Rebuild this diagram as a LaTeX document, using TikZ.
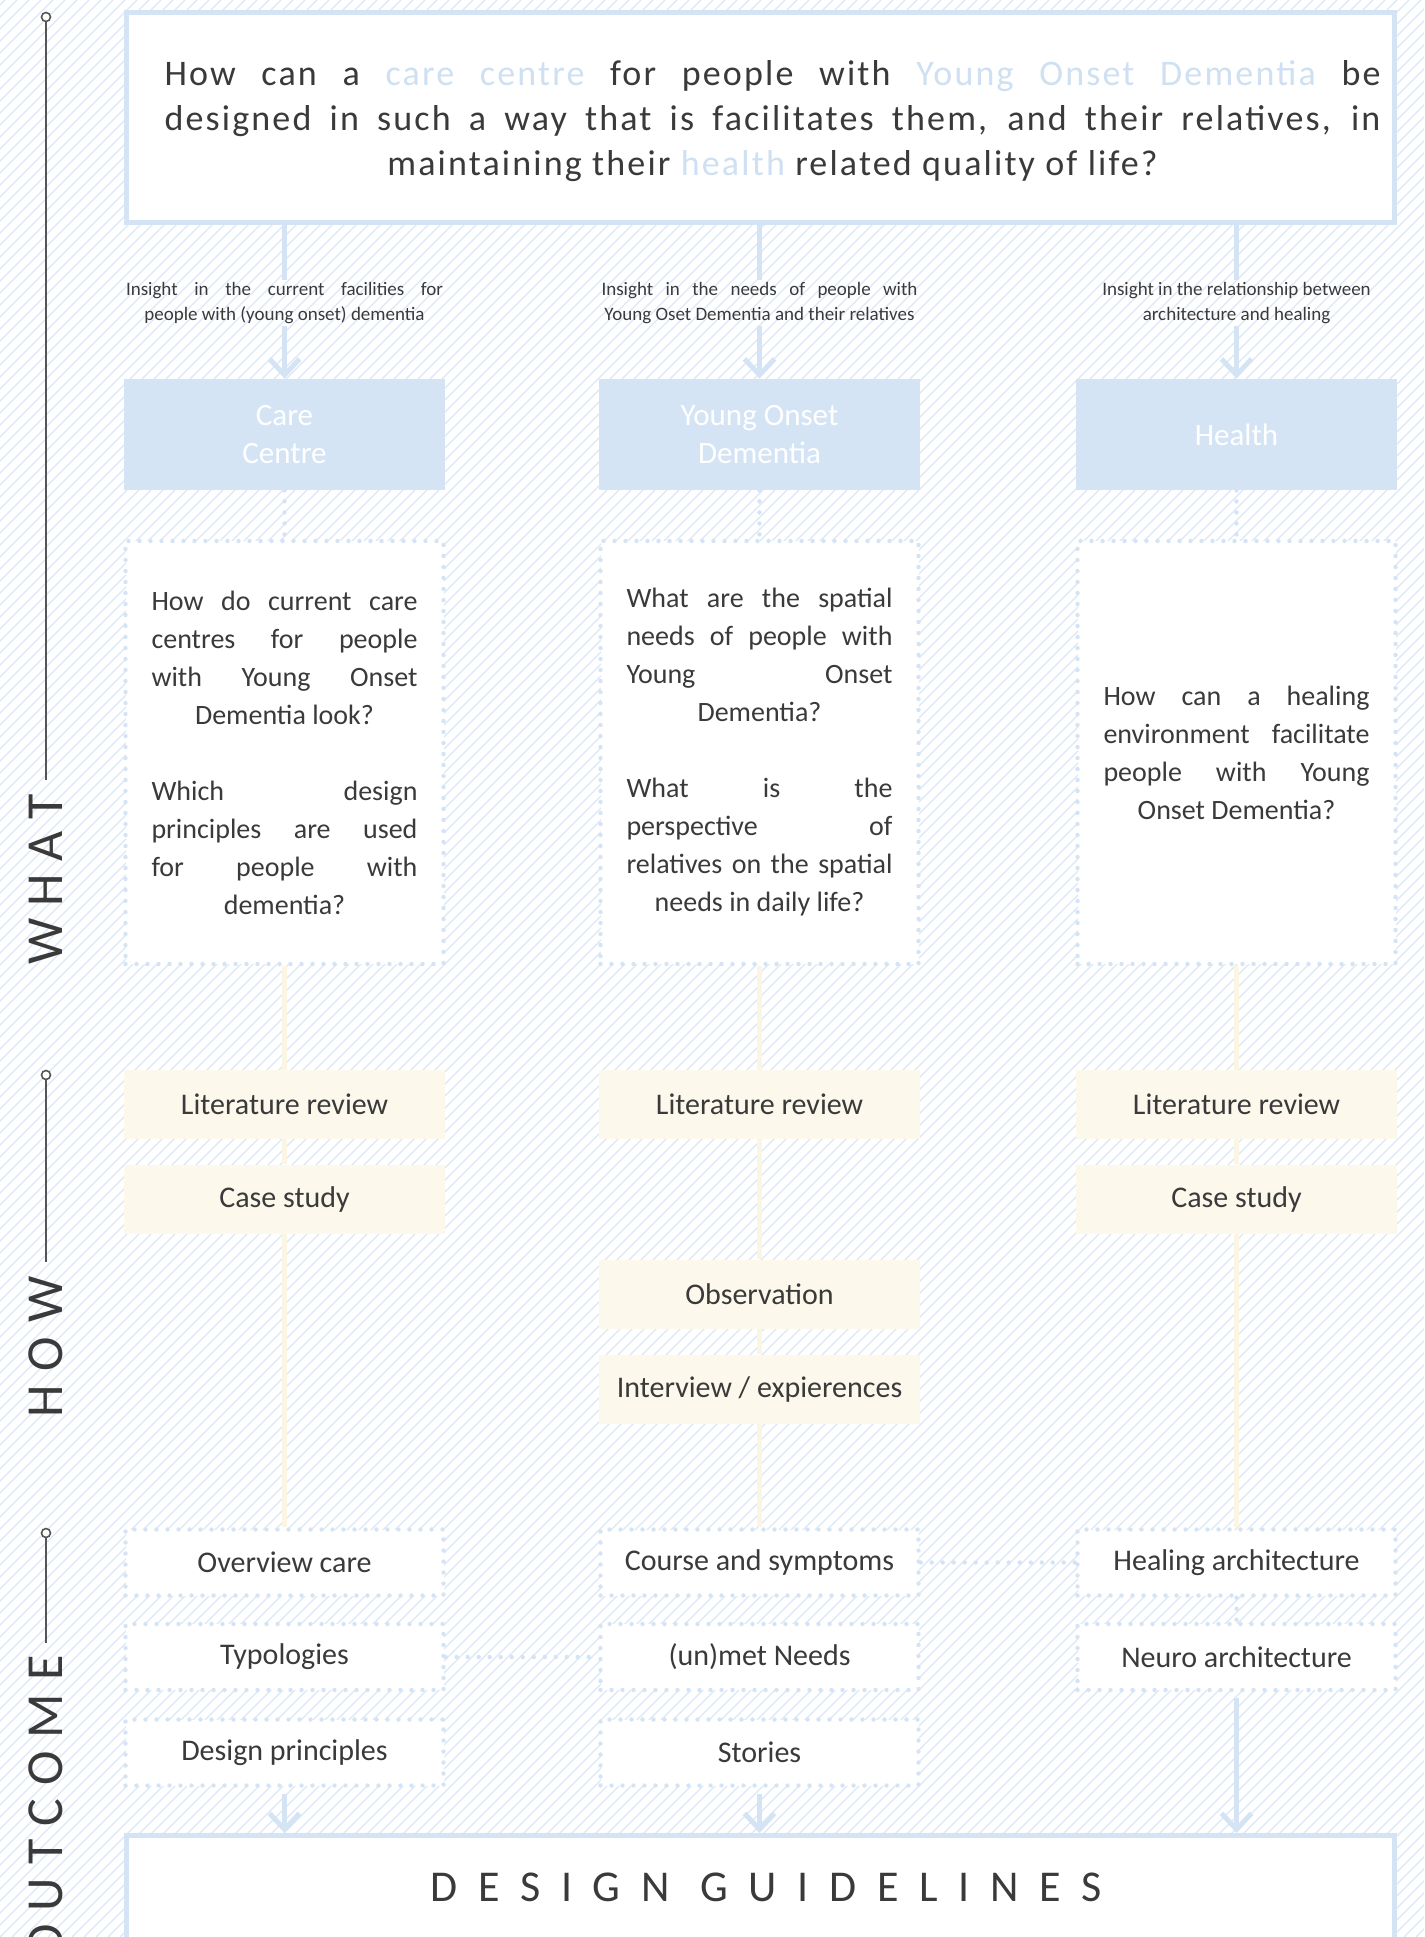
\documentclass[tikz,border=0pt]{standalone}
\usepackage{fontspec}
\setmainfont{Carlito}
\newfontfamily\topfont[LetterSpace=6]{Carlito}
\newfontfamily\dgfont[LetterSpace=47]{Carlito}
\usetikzlibrary{arrows.meta}
\definecolor{lblue}{HTML}{D4E4F5}
\definecolor{hatchc}{HTML}{DAE7F6}
\definecolor{hlc}{HTML}{CFE0F3}
\definecolor{creamc}{HTML}{FCF8EC}
\definecolor{creamline}{HTML}{FBF5E4}
\definecolor{txtc}{HTML}{3A3A3A}
\definecolor{tlc}{HTML}{555555}
\newcommand\hlb[1]{\textcolor{hlc}{#1}}
\begin{document}
\begin{tikzpicture}[x=0.5pt,y=-0.5pt,
 bigbox/.style={draw=lblue, line width=2.5pt, fill=white, inner sep=0pt},
 titlebox/.style={fill=lblue, text=white, minimum width=160.5pt, minimum height=55.5pt, inner sep=0pt, align=center, font=\fontsize{15.5}{19}\selectfont},
 dotbox/.style={draw=lblue, line width=2.2pt, dash pattern=on 0pt off 5.5pt, line cap=round, fill=white, inner sep=0pt, minimum width=159pt},
 qbox/.style={dotbox, minimum height=211.5pt, align=center, text=txtc, font=\fontsize{14}{19}\selectfont},
 obox/.style={dotbox, minimum height=33pt, text=txtc, font=\fontsize{15}{18}\selectfont},
 howbox/.style={fill=creamc, minimum width=160.5pt, minimum height=34.5pt, inner sep=0pt, text=txtc, font=\fontsize{15}{18}\selectfont},
 lab/.style={text=txtc, align=center, inner sep=1pt, font=\fontsize{9.5}{12.5}\selectfont},
 barrow/.style={draw=lblue, line width=2.5pt, -{Straight Barb[length=8pt,width=15pt]}},
 bline/.style={draw=lblue, line width=2.5pt},
 dotline/.style={draw=lblue, line width=2.2pt, dash pattern=on 0pt off 5.5pt, line cap=round},
 creamlink/.style={draw=creamline, line width=2.5pt},
 tl/.style={draw=tlc, line width=0.8pt},
 tlcirc/.style={circle, draw=tlc, line width=0.8pt, fill=white, minimum size=4.5pt, inner sep=0pt},
 side/.style={rotate=90, anchor=east, text=txtc, inner sep=0pt, font=\fontsize{26}{26}\selectfont},
]
\useasboundingbox (0,0) rectangle (1424,1937);
\clip (0,0) rectangle (1424,1937);
\fill[white] (0,0) rectangle (1424,1937);
\foreach \i in {-1944,-1932,...,1430} \draw[hatchc, line width=0.6pt] (\i,1937) -- ++(1937,-1937);

% timeline
\node[tlcirc] (c1) at (46,17) {};
\coordinate (e1) at (46,780);
\draw[tl] (c1.south) -- (e1);
\node[side] (what) at (46,794) {W\kern6pt H\kern6pt A\kern6pt T};
\node[tlcirc] (c2) at (46,1075) {};
\coordinate (e2) at (46,1262);
\draw[tl] (c2.south) -- (e2);
\node[side] (how) at (46,1276) {H\kern7pt O\kern7pt W};
\node[tlcirc] (c3) at (46,1533) {};
\coordinate (e3) at (46,1643);
\draw[tl] (c3.south) -- (e3);
\node[side] (outc) at (46,1655) {O\kern6.5pt U\kern6.5pt T\kern6.5pt C\kern6.5pt O\kern6.5pt M\kern6.5pt E};

\def\xa{284.5}
\def\xb{759.5}
\def\xc{1236.5}

% top question
\node[bigbox, minimum width=634pt, minimum height=105pt] (top) at (760.5,117.5) {};
\node[text=txtc, align=center, inner sep=0pt, font=\topfont\fontsize{18}{22.5}\selectfont] (qt) at (772.5,121) {%
\makebox[608pt][s]{How can a \hlb{care centre} for people with \hlb{Young Onset Dementia} be}\\
\makebox[608pt][s]{designed in such a way that is facilitates them, and their relatives, in}\\
maintaining their \hlb{health} related quality of life?};

% labels
\node[lab] (l1) at (\xa,303) {\makebox[158.5pt][s]{Insight in the current facilities for}\\people with (young onset) dementia};
\node[lab] (l2) at (\xb,303) {\makebox[158pt][s]{Insight in the needs of people with}\\Young Oset Dementia and their relatives};
\node[lab] (l3) at (\xc,303) {Insight in the relationship between\\architecture and healing};

% title boxes
\node[titlebox] (t1) at (\xa,434.5) {Care\\Centre};
\node[titlebox] (t2) at (\xb,434.5) {Young Onset\\Dementia};
\node[titlebox] (t3) at (\xc,434.5) {Health};

\draw[bline] (l1.north |- top.south) -- (l1.north);
\draw[barrow] (l1.south) -- (t1.north);
\draw[bline] (l2.north |- top.south) -- (l2.north);
\draw[barrow] (l2.south) -- (t2.north);
\draw[bline] (l3.north |- top.south) -- (l3.north);
\draw[barrow] (l3.south) -- (t3.north);

% question boxes
\node[qbox] (q1) at (\xa,752.5) {%
\makebox[133pt][s]{How do current care}\\
\makebox[133pt][s]{centres for people}\\
\makebox[133pt][s]{with Young Onset}\\
Dementia look?\\[19pt]
\makebox[133pt][s]{Which design}\\
\makebox[133pt][s]{principles are used}\\
\makebox[133pt][s]{for people with}\\
dementia?};
\node[qbox] (q2) at (\xb,752.5) {%
\makebox[133pt][s]{What are the spatial}\\
\makebox[133pt][s]{needs of people with}\\
\makebox[133pt][s]{Young Onset}\\
Dementia?\\[19pt]
\makebox[133pt][s]{What is the}\\
\makebox[133pt][s]{perspective of}\\
\makebox[133pt][s]{relatives on the spatial}\\
needs in daily life?};
\node[qbox] (q3) at (\xc,752.5) {%
\makebox[133pt][s]{How can a healing}\\
\makebox[133pt][s]{environment facilitate}\\
\makebox[133pt][s]{people with Young}\\
Onset Dementia?};

\draw[dotline] (t1.south) -- (q1.north);
\draw[dotline] (t2.south) -- (q2.north);
\draw[dotline] (t3.south) -- (q3.north);

% how boxes
\node[howbox] (h1a) at (\xa,1104.5) {Literature review};
\node[howbox] (h1b) at (\xa,1199) {Case study};
\node[howbox] (h2a) at (\xb,1104.5) {Literature review};
\node[howbox] (h2b) at (\xb,1294) {Observation};
\node[howbox] (h2c) at (\xb,1389) {Interview / expierences};
\node[howbox] (h3a) at (\xc,1104.5) {Literature review};
\node[howbox] (h3b) at (\xc,1199) {Case study};

% outcome boxes
\node[obox] (o1a) at (\xa,1562.5) {Overview care};
\node[obox] (o1b) at (\xa,1657) {Typologies};
\node[obox] (o1c) at (\xa,1752.5) {Design principles};
\node[obox] (o2a) at (\xb,1562.5) {Course and symptoms};
\node[obox] (o2b) at (\xb,1657) {(un)met Needs};
\node[obox] (o2c) at (\xb,1752.5) {Stories};
\node[obox] (o3a) at (\xc,1562.5) {Healing architecture};
\node[obox] (o3b) at (\xc,1657) {Neuro architecture};

% cream links
\draw[creamlink] (q1.south) -- (h1a.north);
\draw[creamlink] (h1a.south) -- (h1b.north);
\draw[creamlink] (h1b.south) -- (o1a.north);
\draw[creamlink] (q2.south) -- (h2a.north);
\draw[creamlink] (h2a.south) -- (h2b.north);
\draw[creamlink] (h2b.south) -- (h2c.north);
\draw[creamlink] (h2c.south) -- (o2a.north);
\draw[creamlink] (q3.south) -- (h3a.north);
\draw[creamlink] (h3a.south) -- (h3b.north);
\draw[creamlink] (h3b.south) -- (o3a.north);

% dotted links
\draw[dotline] (o2a.east) -- (o3a.west);
\draw[dotline] (o1b.east) -- (o2b.west);
\draw[dotline] (o3a.south) -- (o3b.north);

% bottom box
\node[bigbox, minimum width=634pt, minimum height=200pt, anchor=north] (dg) at (760.5,1833) {};
\node[text=txtc, inner sep=0pt, font=\dgfont\fontsize{22}{22}\selectfont] (dgt) at (766,1887) {DESIGN GUIDELINES};

\draw[barrow, shorten <=3pt] (o1c.south) -- (o1c.south |- dg.north);
\draw[barrow, shorten <=3pt] (o2c.south) -- (o2c.south |- dg.north);
\draw[barrow, shorten <=3pt] (o3b.south) -- (o3b.south |- dg.north);
\end{tikzpicture}
\end{document}
